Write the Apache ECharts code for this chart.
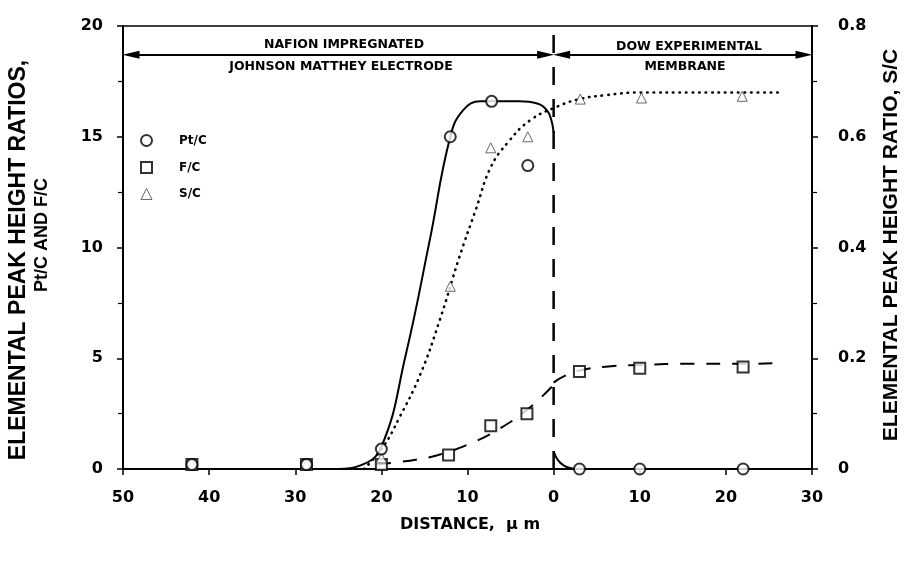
<!DOCTYPE html>
<html><head><meta charset="utf-8">
<script src="https://cdn.jsdelivr.net/npm/echarts@6/dist/echarts.min.js"></script>
<style>html,body{margin:0;padding:0;background:#fff}#c{width:904px;height:565px}</style>
</head><body><div id="c"></div>
<script>
// ---- measured data points ----
const ptX = [-42, -28.7, -20, -12, -7.2, -3, 3, 10, 22];
const ptY = [0.2, 0.2, 0.9, 15.0, 16.6, 13.7, 0, 0, 0];
const fX  = [-42, -28.7, -20, -12.2, -7.3, -3.1, 3, 10, 22];
const fY  = [0.2, 0.2, 0.2, 0.63, 1.95, 2.5, 4.4, 4.55, 4.6];
const sX  = [-42, -28.7, -20, -12, -7.3, -3, 3.1, 10.2, 21.9];
const sY  = [0.008, 0.008, 0.02, 0.33, 0.58, 0.60, 0.668, 0.67, 0.673];
// ---- fitted curves ----
const ptCurveLX = [-25, -22.5, -20, -17.2, -14.4, -12, -10.5, -8.5, -7.2, -4, -1.9, -0.8, -0.3, 0];
const ptCurveLY = [0, 0.15, 1.0, 5.1, 10.3, 15.0, 16.2, 16.6, 16.6, 16.6, 16.5, 16.2, 15.8, 15.2];
const ptCurveRX = [0, 0.5, 1.2, 2, 3, 26];
const ptCurveRY = [0.8, 0.4, 0.15, 0.04, 0, 0];
const fCurveLX = [-20.5, -16, -13.4, -10, -6.8, -3, 0];
const fCurveLY = [0.2, 0.42, 0.63, 1.1, 1.7, 2.7, 3.8];
const fCurveRX = [0, 1, 3, 6, 10, 16, 22, 26.3];
const fCurveRY = [3.9, 4.15, 4.45, 4.62, 4.7, 4.75, 4.75, 4.78];
const sCurveX = [-22, -19.8, -18, -15.5, -13.2, -11, -9, -7.3, -5.3, -2.7, 0.5, 3, 6, 10, 16, 22, 26.3];
const sCurveY = [0, 0.04, 0.09, 0.17, 0.27, 0.38, 0.47, 0.545, 0.59, 0.63, 0.655, 0.668, 0.675, 0.68, 0.68, 0.68, 0.68];
// region arrows and boundary
const arrowY = 18.7;
const arrowSpans = [[-50, 0], [0, 30]];
const boundaryX = [0, 0];
const boundaryY = [0, 20];

const pairs = (xs, ys) => xs.map((x, i) => [x, ys[i]]);
const F = 'DejaVu Sans';
const inset = 0.93; // arrow half-length in axis units

const chart = echarts.init(document.getElementById('c'), null, {renderer: 'canvas'});
const lineBase = {type: 'line', showSymbol: false, symbol: 'none', smooth: 0.45,
  silent: true, z: 2, animation: false};

const arrowData = arrowSpans.map(s => [
  {coord: [s[0] + inset, arrowY], symbol: 'triangle', symbolSize: [8, 17]},
  {coord: [s[1] - inset, arrowY], symbol: 'triangle', symbolSize: [8, 17]}
]);

chart.setOption({
  animation: false,
  backgroundColor: '#fff',
  grid: {left: 123, right: 92, top: 26, bottom: 96, show: true, borderColor: '#000', borderWidth: 1.5},
  xAxis: {type: 'value', min: -50, max: 30, interval: 10,
    axisLine: {onZero: false, lineStyle: {color: '#000', width: 2}},
    axisTick: {length: 6, lineStyle: {color: '#000', width: 1.5}},
    splitLine: {show: false},
    axisLabel: {margin: 21, color: '#000', fontFamily: F, fontWeight: 'bold', fontSize: 16,
      formatter: v => String(Math.abs(v))}},
  yAxis: [
    {type: 'value', min: 0, max: 20, interval: 5, position: 'left',
      axisLine: {show: true, onZero: false, lineStyle: {color: '#000', width: 2}},
      axisTick: {show: true, length: 6, lineStyle: {color: '#000', width: 1.5}},
      minorTick: {show: true, splitNumber: 2, length: 5, lineStyle: {color: '#000', width: 1.2}},
      splitLine: {show: false},
      axisLabel: {margin: 20, color: '#000', fontFamily: F, fontWeight: 'bold', fontSize: 16}},
    {type: 'value', min: 0, max: 0.8, interval: 0.2, position: 'right',
      axisLine: {show: true, onZero: false, lineStyle: {color: '#000', width: 2}},
      axisTick: {show: true, length: 6, lineStyle: {color: '#000', width: 1.5}},
      minorTick: {show: true, splitNumber: 2, length: 5, lineStyle: {color: '#000', width: 1.2}},
      splitLine: {show: false},
      axisLabel: {margin: 26, color: '#000', fontFamily: F, fontWeight: 'bold', fontSize: 16}}
  ],
  legend: {orient: 'vertical', left: 135, top: 129, itemWidth: 11, itemHeight: 11, itemGap: 14,
    selectedMode: false,
    textStyle: {fontFamily: F, fontWeight: 'bold', fontSize: 12, color: '#000', padding: [0, 0, 0, 22]},
    data: [
      {name: 'Pt/C', icon: 'circle', itemStyle: {color: '#fff', borderColor: '#000', borderWidth: 2}},
      {name: 'F/C', icon: 'rect', itemStyle: {color: '#fff', borderColor: '#000', borderWidth: 2}},
      {name: 'S/C', icon: 'triangle', itemStyle: {color: '#fff', borderColor: '#444', borderWidth: 1}}
    ]},
  series: [
    {type: 'line', name: 'boundary', data: pairs(boundaryX, boundaryY), silent: true, z: 1,
      showSymbol: false, symbol: 'none',
      lineStyle: {color: '#000', width: 2.5, type: [18, 14]}},
    {type: 'line', name: 'arrows', data: [], silent: true, z: 1,
      markLine: {silent: true, animation: false, label: {show: false}, symbol: 'triangle',
        lineStyle: {color: '#000', width: 1.8, type: 'solid'},
        itemStyle: {color: '#000'},
        emphasis: {disabled: true},
        data: arrowData}},
    Object.assign({}, lineBase, {name: 'ptL', data: pairs(ptCurveLX, ptCurveLY),
      lineStyle: {color: '#000', width: 2}}),
    Object.assign({}, lineBase, {name: 'ptR', data: pairs(ptCurveRX, ptCurveRY),
      lineStyle: {color: '#000', width: 2}}),
    Object.assign({}, lineBase, {name: 'fL', data: pairs(fCurveLX, fCurveLY),
      lineStyle: {color: '#000', width: 2, type: [14, 12]}}),
    Object.assign({}, lineBase, {name: 'fR', data: pairs(fCurveRX, fCurveRY),
      lineStyle: {color: '#000', width: 2, type: [14, 12]}}),
    Object.assign({}, lineBase, {name: 'sCurve', yAxisIndex: 1, data: pairs(sCurveX, sCurveY),
      lineStyle: {color: '#000', width: 2.6, type: [0.5, 6], cap: 'round'}}),
    {name: 'Pt/C', type: 'scatter', z: 5, silent: true, symbol: 'circle', symbolSize: 11,
      itemStyle: {color: '#fff', borderColor: '#000', borderWidth: 2}, data: pairs(ptX, ptY)},
    {name: 'F/C', type: 'scatter', z: 4, silent: true, symbol: 'rect', symbolSize: 11,
      itemStyle: {color: '#fff', borderColor: '#000', borderWidth: 2}, data: pairs(fX, fY)},
    {name: 'S/C', type: 'scatter', z: 4, silent: true, yAxisIndex: 1, symbol: 'triangle', symbolSize: 10,
      itemStyle: {color: '#fff', borderColor: '#444', borderWidth: 1}, data: pairs(sX, sY)}
  ],
  graphic: [
    {type: 'text', x: 344, y: 45, silent: true, style: {text: 'NAFION IMPREGNATED', fill: '#000',
      font: 'bold 12.5px "DejaVu Sans"', align: 'center', verticalAlign: 'middle'}},
    {type: 'text', x: 341, y: 67, silent: true, style: {text: 'JOHNSON MATTHEY ELECTRODE', fill: '#000',
      font: 'bold 12.5px "DejaVu Sans"', align: 'center', verticalAlign: 'middle'}},
    {type: 'text', x: 689, y: 47, silent: true, style: {text: 'DOW EXPERIMENTAL', fill: '#000',
      font: 'bold 12.5px "DejaVu Sans"', align: 'center', verticalAlign: 'middle'}},
    {type: 'text', x: 685, y: 67, silent: true, style: {text: 'MEMBRANE', fill: '#000',
      font: 'bold 12.5px "DejaVu Sans"', align: 'center', verticalAlign: 'middle'}},
    {type: 'text', x: 19, y: 260, rotation: Math.PI / 2, silent: true,
      style: {text: 'ELEMENTAL PEAK HEIGHT RATIOS,', fill: '#000',
      font: 'bold 23px "Liberation Sans"', align: 'center', verticalAlign: 'middle'}},
    {type: 'text', x: 42, y: 235, rotation: Math.PI / 2, silent: true,
      style: {text: 'Pt/C AND F/C', fill: '#000',
      font: 'bold 18px "Liberation Sans"', align: 'center', verticalAlign: 'middle'}},
    {type: 'text', x: 891, y: 245, rotation: Math.PI / 2, silent: true,
      style: {text: 'ELEMENTAL PEAK HEIGHT RATIO, S/C', fill: '#000',
      font: 'bold 21px "Liberation Sans"', align: 'center', verticalAlign: 'middle'}},
    {type: 'text', x: 470, y: 525, silent: true,
      style: {text: 'DISTANCE,  \u00b5 m', fill: '#000',
      font: 'bold 16px "DejaVu Sans"', align: 'center', verticalAlign: 'middle'}}
  ]
});
</script></body></html>
